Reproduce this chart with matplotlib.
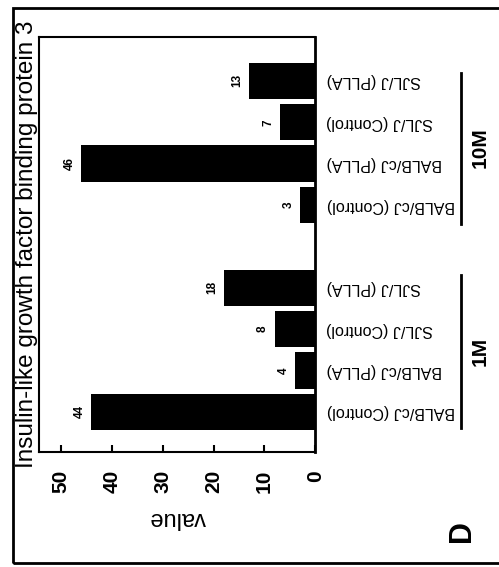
import matplotlib.pyplot as plt
from matplotlib.patches import Rectangle

plt.rcParams['font.family'] = ['Liberation Sans', 'DejaVu Sans']

# data (bottom to top in the rotated figure)
categories = ['BALB/cJ (Control)', 'BALB/cJ (PLLA)', 'SJL/J (Control)', 'SJL/J (PLLA)',
              'BALB/cJ (Control)', 'BALB/cJ (PLLA)', 'SJL/J (Control)', 'SJL/J (PLLA)']
values = [44, 4, 8, 18, 3, 46, 7, 13]
positions = [0, 1, 2, 3, 5, 6, 7, 8]
groups = ['1M', '10M']
group_spans = [(-0.4, 3.3), (4.55, 8.2)]
title = 'Insulin-like growth factor binding protein 3'
xticks = [0, 10, 20, 30, 40, 50]

fig = plt.figure(figsize=(4.99, 5.67), dpi=100)
ax = fig.add_axes([0.0782, 0.2028, 0.5537, 0.7319])

ax.barh(positions, values, height=0.88, color='black')
for p, v in zip(positions, values):
    ax.annotate(str(v), (v, p), xytext=(-4, 0), textcoords='offset points',
                rotation=90, ha='right', va='center', fontsize=8.5, fontweight='bold')

ax.set_xlim(54.3, 0)
ax.set_ylim(-0.97, 9.06)

ax.set_xticks(xticks)
ax.set_xticklabels([str(t) for t in xticks], rotation=90, fontsize=15, fontweight='bold',
                   va='top', ha='center')
ax.tick_params(axis='x', direction='in', length=5, width=1.5, pad=13)

ax.yaxis.tick_right()
ax.set_yticks(positions)
ax.set_yticklabels(categories, rotation=180, fontsize=11.5, ha='left', va='center')
ax.tick_params(axis='y', length=0, pad=8)

for s in ax.spines.values():
    s.set_linewidth(1.5)
ax.spines['right'].set_linewidth(2)

ax.set_xlabel('value', rotation=180, fontsize=17, labelpad=10)

# group brackets and labels
x_line = (462 - 39) / 277.0
x_text = (481 - 39) / 277.0
for g, (a, b) in zip(groups, group_spans):
    ax.plot([x_line, x_line], [a, b], color='black', lw=2,
            transform=ax.get_yaxis_transform(), clip_on=False)
    ax.text(x_text, (a + b) / 2, g, rotation=90, ha='center', va='center',
            fontsize=15, fontweight='bold', transform=ax.get_yaxis_transform())

fig.text(27 / 499, 1 - 244 / 567, title, rotation=90, ha='center', va='center', fontsize=17.5)
fig.text(462 / 499, 1 - 531 / 567, 'D', rotation=90, ha='center', va='center',
         fontsize=22, fontweight='bold')

# outer frame
fig.patches.append(Rectangle((13 / 499, 1 - 563 / 567), 1.2, (563 - 8) / 567,
                             transform=fig.transFigure, fill=False, lw=2, edgecolor='black'))

fig.savefig('out.png', dpi=100)
